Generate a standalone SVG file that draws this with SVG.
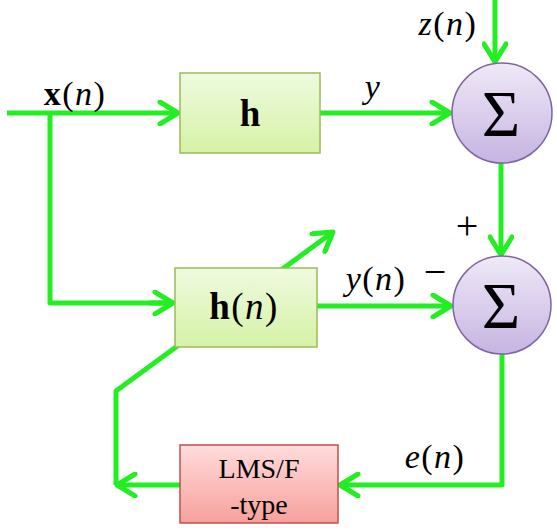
<svg xmlns="http://www.w3.org/2000/svg" width="557" height="532" viewBox="0 0 557 532">
<style>
.w{fill:none;stroke:#22ee22;stroke-width:5;stroke-linejoin:round}
.box{fill:url(#gg);stroke:#9bbb59;stroke-width:1.5}
.lms{fill:url(#rg);stroke:#c0504d;stroke-width:1.5}
.sum{fill:url(#pg);stroke:#8064a2;stroke-width:1.5}
.t{font-family:"Liberation Serif","DejaVu Serif",serif;fill:#000}
.m{font-family:"Liberation Serif","DejaVu Serif",serif;font-size:34px;letter-spacing:1.5px;fill:#000}
.s{font-family:"Liberation Serif","DejaVu Serif",serif;font-size:66px;fill:#000}
</style>
<defs>
<linearGradient id="gg" x1="0" y1="0" x2="0" y2="1"><stop offset="0" stop-color="#eefadf"/><stop offset="1" stop-color="#d6f2a6"/></linearGradient>
<linearGradient id="rg" x1="0" y1="0" x2="0" y2="1"><stop offset="0" stop-color="#ffdcdc"/><stop offset="1" stop-color="#f7a09c"/></linearGradient>
<linearGradient id="pg" x1="0" y1="0" x2="0" y2="1"><stop offset="0" stop-color="#efe9f7"/><stop offset="1" stop-color="#c6b4e2"/></linearGradient>
<marker id="a" markerUnits="userSpaceOnUse" viewBox="0 0 24 26" refX="21" refY="13" markerWidth="24" markerHeight="26" orient="auto">
<path d="M3,2 L21,13 L3,24" fill="none" stroke="#22ee22" stroke-width="5" stroke-linecap="round" stroke-linejoin="round"/>
</marker>
</defs>
<g id="connectors">
<path class="w" d="M7,113 H178" marker-end="url(#a)"/>
<path class="w" d="M50,113 V303 H173"/>
<path class="w" d="M150,303 H173" marker-end="url(#a)"/>
<path class="w" d="M320,113 H450" marker-end="url(#a)"/>
<path class="w" d="M495,0 V62" marker-end="url(#a)"/>
<path class="w" d="M501,163 V255" marker-end="url(#a)"/>
<path class="w" d="M317,306 H451" marker-end="url(#a)"/>
<path class="w" d="M502,354 V485 H340" marker-end="url(#a)"/>
<path class="w" d="M180,485 H117" marker-end="url(#a)"/>
<path class="w" d="M116,485 V391 L333,232" marker-end="url(#a)"/>
</g>
<g id="h">
<rect class="box" x="180" y="73" width="140" height="80"/>
<text class="t" x="250" y="126" font-size="37" font-weight="bold" text-anchor="middle">h</text>
</g>
<g id="hn">
<rect class="box" x="175" y="268" width="142" height="79"/>
<text class="t" x="244" y="319" font-size="37" letter-spacing="1.5" text-anchor="middle"><tspan font-weight="bold">h</tspan>(<tspan font-style="italic">n</tspan>)</text>
</g>
<g id="sum1">
<circle class="sum" cx="502" cy="113" r="50"/>
<text class="s" x="501" y="136" text-anchor="middle">Σ</text>
</g>
<g id="sum2">
<circle class="sum" cx="502" cy="305" r="49"/>
<text class="s" x="501" y="328" text-anchor="middle">Σ</text>
</g>
<g id="lms">
<rect class="lms" x="180" y="445" width="158" height="78"/>
<text class="t" x="259" y="478" font-size="28" text-anchor="middle">LMS/F</text>
<text class="t" x="259" y="514" font-size="28" text-anchor="middle">-type</text>
</g>
<g id="labels">
<text class="m" x="75" y="105" text-anchor="middle"><tspan font-weight="bold">x</tspan>(<tspan font-style="italic">n</tspan>)</text>
<text class="m" x="373" y="98" font-style="italic" text-anchor="middle">y</text>
<text class="m" x="448" y="35" text-anchor="middle"><tspan font-style="italic">z</tspan>(<tspan font-style="italic">n</tspan>)</text>
<text class="t" x="467" y="239" font-size="40" text-anchor="middle">+</text>
<text class="m" x="376" y="290" text-anchor="middle"><tspan font-style="italic">y</tspan>(<tspan font-style="italic">n</tspan>)</text>
<text class="t" x="435" y="285" font-size="40" text-anchor="middle">−</text>
<text class="m" x="435" y="468" text-anchor="middle"><tspan font-style="italic">e</tspan>(<tspan font-style="italic">n</tspan>)</text>
</g>
</svg>
